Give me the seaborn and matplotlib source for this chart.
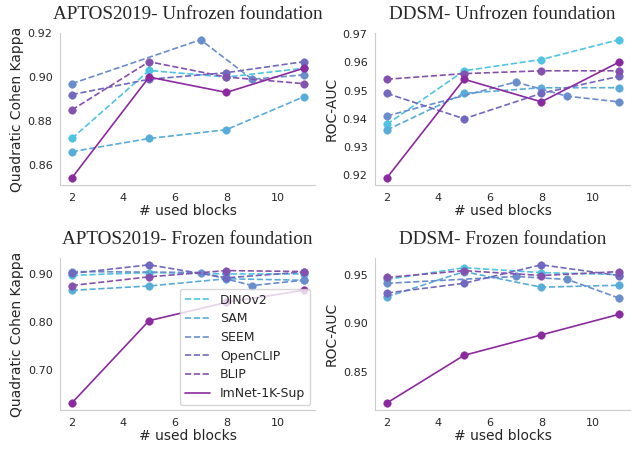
import matplotlib
matplotlib.use("Agg")
import matplotlib.pyplot as plt
from matplotlib.lines import Line2D
import seaborn as sns
import pandas as pd

# ---------------- data ----------------
models = ["DINOv2", "SAM", "SEEM", "OpenCLIP", "BLIP", "ImNet-1K-Sup"]
colors = ["#4fc4e2", "#58acd9", "#6a8dcd", "#7168c0", "#8451ae", "#8b2a9e"]
blocks = [2, 5, 8, 11]
seem_blocks = [2, 7, 9, 11]

aptos_unfrozen = {
    "DINOv2": [0.872, 0.903, 0.900, 0.904],
    "SAM": [0.866, 0.872, 0.876, 0.891],
    "SEEM": [0.897, 0.917, 0.899, 0.901],
    "OpenCLIP": [0.892, 0.899, 0.902, 0.907],
    "BLIP": [0.885, 0.907, 0.900, 0.897],
    "ImNet-1K-Sup": [0.854, 0.900, 0.893, 0.904],
}
ddsm_unfrozen = {
    "DINOv2": [0.938, 0.957, 0.961, 0.968],
    "SAM": [0.936, 0.949, 0.951, 0.951],
    "SEEM": [0.941, 0.953, 0.948, 0.946],
    "OpenCLIP": [0.949, 0.940, 0.949, 0.955],
    "BLIP": [0.954, 0.956, 0.957, 0.957],
    "ImNet-1K-Sup": [0.919, 0.954, 0.946, 0.960],
}
aptos_frozen = {
    "DINOv2": [0.897, 0.903, 0.900, 0.900],
    "SAM": [0.866, 0.875, 0.890, 0.887],
    "SEEM": [0.905, 0.903, 0.876, 0.887],
    "OpenCLIP": [0.901, 0.919, 0.892, 0.904],
    "BLIP": [0.876, 0.894, 0.907, 0.905],
    "ImNet-1K-Sup": [0.632, 0.803, 0.841, 0.866],
}
ddsm_frozen = {
    "DINOv2": [0.945, 0.957, 0.952, 0.950],
    "SAM": [0.927, 0.953, 0.937, 0.939],
    "SEEM": [0.941, 0.948, 0.945, 0.926],
    "OpenCLIP": [0.931, 0.941, 0.960, 0.949],
    "BLIP": [0.947, 0.954, 0.949, 0.953],
    "ImNet-1K-Sup": [0.818, 0.867, 0.888, 0.909],
}

panels = [
    ("APTOS2019- Unfrozen foundation", "Quadratic Cohen Kappa", aptos_unfrozen, None),
    ("DDSM- Unfrozen foundation", "ROC-AUC", ddsm_unfrozen, None),
    ("APTOS2019- Frozen foundation", "Quadratic Cohen Kappa", aptos_frozen, [0.70, 0.80, 0.90]),
    ("DDSM- Frozen foundation", "ROC-AUC", ddsm_frozen, [0.85, 0.90, 0.95]),
]

# ---------------- style ----------------
sns.set_style("whitegrid", {"axes.grid": False})
plt.rcParams["font.family"] = ["DejaVu Sans"]

fig, axes = plt.subplots(2, 2, figsize=(6.34, 4.5), dpi=100)
fig.subplots_adjust(left=0.095, right=0.994, top=0.927, bottom=0.089,
                    wspace=0.235, hspace=0.48)

for ax, (title, ylabel, data, yticks) in zip(axes.flat, panels):
    for m, c in zip(models, colors):
        xs = seem_blocks if m == "SEEM" else blocks
        df = pd.DataFrame({"block": xs, "value": data[m]})
        sns.lineplot(data=df, x="block", y="value", ax=ax, color=c,
                     marker="o", markersize=5.5, linewidth=1.2,
                     linestyle="-" if m == "ImNet-1K-Sup" else "--",
                     markeredgewidth=0.3, markeredgecolor=c, legend=False)
    ax.set_title(title, family="Liberation Serif", fontsize=13.8, pad=10)
    ax.set_xlabel("# used blocks", fontsize=10, labelpad=1)
    ax.set_ylabel(ylabel, fontsize=10, labelpad=3)
    ax.set_xticks([2, 4, 6, 8, 10])
    if yticks is not None:
        ax.set_yticks(yticks)
    ax.yaxis.set_major_formatter(matplotlib.ticker.FormatStrFormatter("%.2f"))
    ax.tick_params(labelsize=8, pad=2, colors=".15")
    sns.despine(ax=ax)

handles = [Line2D([], [], color=c, linewidth=1.2,
                  linestyle="-" if m == "ImNet-1K-Sup" else "--")
           for m, c in zip(models, colors)]
axes[1, 0].legend(handles, models, loc="lower right", fontsize=9,
                  labelspacing=0.45, framealpha=0.8, borderaxespad=0.4)

fig.savefig("out.png", dpi=100)
